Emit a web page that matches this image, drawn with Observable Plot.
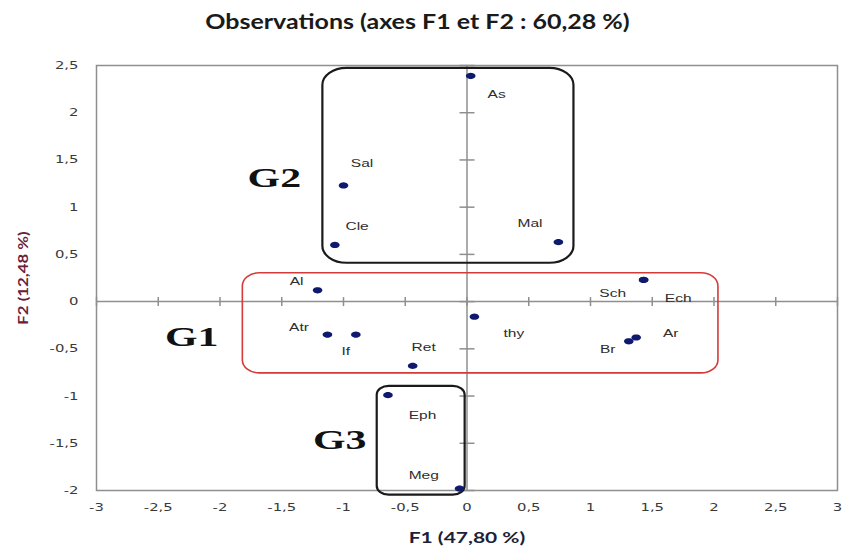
<!DOCTYPE html>
<html><head><meta charset="utf-8">
<script src="https://cdn.jsdelivr.net/npm/d3@7"></script>
<script src="https://cdn.jsdelivr.net/npm/@observablehq/plot@0.6"></script>
<style>body{margin:0;background:#fff}</style>
</head><body><div id="chart"></div>
<script>
// Observations (F1, F2 scores)
const names  = ["As","Sal","Cle","Mal","Al","Sch","Ech","Atr","If","Ret","thy","Br","Ar","Eph","Meg"];
const f1     = [0.03,-1.00,-1.07,0.74,-1.21,1.43,1.43,-1.13,-0.90,-0.44,0.06,1.31,1.37,-0.64,-0.06];
const f2     = [2.39,1.23,0.60,0.63,0.12,0.23,0.23,-0.35,-0.35,-0.68,-0.16,-0.42,-0.38,-0.99,-1.98];
// data-label anchor positions (in F1/F2 units)
const labelF1 = [0.24,-0.85,-0.89,0.51,-1.38,1.18,1.71,-1.36,-0.98,-0.35,0.38,1.14,1.65,-0.36,-0.35];
const labelF2 = [2.20,1.46,0.80,0.83,0.22,0.09,0.03,-0.27,-0.53,-0.48,-0.34,-0.51,-0.34,-1.20,-1.84];

// Groups
const groupNames = ["G1","G2","G3"];
const groupX1 = [-1.815,-1.167,-0.727];
const groupX2 = [2.036,0.866,-0.015];
const groupY1 = [-0.76,0.406,-2.05];
const groupY2 = [0.30,2.47,-0.897];
const groupLabelF1 = [-2.23,-1.56,-1.03];
const groupLabelF2 = [-0.38,1.31,-1.47];

// Ticks
const xTicks = [-3,-2.5,-2,-1.5,-1,-0.5,0,0.5,1,1.5,2,2.5,3];
const yTicks = [-2,-1.5,-1,-0.5,0,0.5,1,1.5,2,2.5];

const title = "Observations (axes F1 et F2 : 60,28 %)";
const xTitle = "F1 (47,80 %)";
const yTitle = "F2 (12,48 %)";

const obs = names.map((n,i)=>({name:n, f1:f1[i], f2:f2[i], lx:labelF1[i], ly:labelF2[i]}));
const groups = groupNames.map((g,i)=>({name:g, x1:groupX1[i], x2:groupX2[i], y1:groupY1[i], y2:groupY2[i], lx:groupLabelF1[i], ly:groupLabelF2[i]}));

const fmt = d => String(d).replace(".", ",");
const ellipseSym = {draw(ctx){ const rx=4.8, ry=3.1; ctx.moveTo(rx,0); for(let i=1;i<24;i++){const a=i/24*2*Math.PI; ctx.lineTo(rx*Math.cos(a), ry*Math.sin(a));} ctx.closePath(); }};
const vTick = {draw(ctx){ ctx.moveTo(0,-4.5); ctx.lineTo(0,4.5); }};
const hTick = {draw(ctx){ ctx.moveTo(-7.5,0); ctx.lineTo(7.5,0); }};
const axisGray = "#8f8f8f";
const radii = {G1:[17,13], G2:[24,17], G3:[12,9]};
const strokes = {G1:"#d43a3a", G2:"#1a1a1a", G3:"#1a1a1a"};

const svg = Plot.plot({
  width: 842, height: 546,
  marginLeft: 96, marginRight: 5, marginTop: 65, marginBottom: 56,
  x: {domain: [-3, 3]},
  y: {domain: [-2, 2.5]},
  style: {fontFamily: "DejaVu Sans", fontSize: "11px", background: "#fff"},
  marks: [
    Plot.frame({stroke: axisGray, strokeWidth: 1.5}),
    Plot.ruleY([0], {stroke: axisGray, strokeWidth: 1.5}),
    Plot.ruleX([0], {stroke: axisGray, strokeWidth: 1.5}),
    Plot.dot(xTicks, {x: d => d, y: () => 0, symbol: vTick, r: 1, stroke: axisGray, strokeWidth: 1.5, fill: "none"}),
    Plot.dot(yTicks, {x: () => 0, y: d => d, symbol: hTick, r: 1, stroke: axisGray, strokeWidth: 1.5, fill: "none"}),
    Plot.axisX({ticks: xTicks, tickFormat: fmt, tickSize: 0, tickPadding: 13, label: null, fill: "#3a3a3a", ariaDescription: "xticks"}),
    Plot.axisY({ticks: yTicks, tickFormat: fmt, tickSize: 0, tickPadding: 18, label: null, fill: "#3a3a3a", ariaDescription: "yticks"}),
    ...groups.map(g => Plot.rect([g], {x1: "x1", x2: "x2", y1: "y1", y2: "y2", fill: "none",
        stroke: strokes[g.name], strokeWidth: g.name === "G1" ? 1.6 : 2.2, rx: radii[g.name][0], ry: radii[g.name][1]})),
    Plot.text(groups, {x: "lx", y: "ly", text: "name", fontFamily: "Liberation Serif", fontWeight: "bold", fontSize: 27, fill: "#111", ariaDescription: "glabels"}),
    Plot.dot(obs, {x: "f1", y: "f2", symbol: ellipseSym, r: 1, fill: "#0f1a6e", stroke: "none"}),
    Plot.text(obs, {x: "lx", y: "ly", text: "name", fontFamily: "Liberation Sans", fontSize: 11.5, fill: "#2e2e2e", ariaDescription: "olabels"}),
    Plot.text([title], {text: d => d, frameAnchor: "top-left", textAnchor: "middle", lineAnchor: "middle", dx: 321, dy: -43, fontFamily: "Lato", fontWeight: "bold", fontSize: 20, fill: "#1a1a1a", ariaDescription: "title"}),
    Plot.text([xTitle], {text: d => d, frameAnchor: "bottom", textAnchor: "middle", lineAnchor: "middle", dy: 48, fontFamily: "Lato", fontWeight: "bold", fontSize: 15, fill: "#1a1f3a", ariaDescription: "xtitle"}),
    Plot.text([yTitle], {text: d => d, frameAnchor: "left", textAnchor: "middle", lineAnchor: "middle", dx: -73, rotate: -90, fontFamily: "Lato", fontWeight: "bold", fontSize: 14, fill: "#6a2038", ariaDescription: "ytitle"})
  ]
});

document.getElementById("chart").appendChild(svg);

function stretch(desc, s, anchor) {
  svg.querySelectorAll(`g[aria-description="${desc}"] text`).forEach(t => {
    const b = t.getBBox();
    if (!isFinite(b.x) || !isFinite(b.width)) return;
    const ax = anchor === "end" ? b.x + b.width : b.x + b.width / 2;
    const tr = t.getAttribute("transform") || "";
    t.setAttribute("transform", `${tr} translate(${ax},0) scale(${s},1) translate(${-ax},0)`);
  });
}
stretch("glabels", 1.55, "middle");
stretch("olabels", 1.35, "middle");
stretch("xticks", 1.35, "middle");
stretch("yticks", 1.35, "end");
stretch("title", 1.25, "middle");
stretch("xtitle", 1.4, "middle");
stretch("ytitle", 1.2, "middle");
</script>
</body></html>
